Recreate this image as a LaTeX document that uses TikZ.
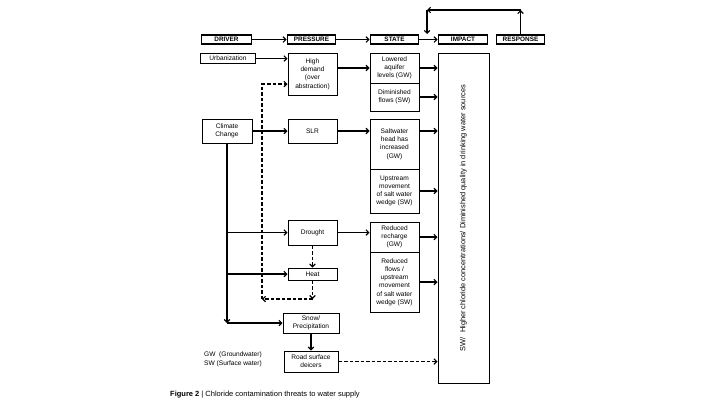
\documentclass[tikz,border=0pt]{standalone}
\usepackage{fontspec}
\setmainfont{Liberation Sans}
\usetikzlibrary{arrows.meta,calc}
\begin{document}
\begin{tikzpicture}[x=1pt,y=-1pt,
  every node/.style={font=\fontsize{6.6}{8.2}\selectfont, align=center, inner sep=0pt},
  hdr/.style={draw, line width=1.9pt, minimum width=48pt, minimum height=9.5pt, font=\fontsize{6.4}{7}\selectfont\bfseries},
  bx/.style={draw, line width=1pt, minimum width=49pt},
  arr/.style={line width=1.1pt, -{Straight Barb[length=2.8pt,width=5.6pt,line width=1.1pt]}},
  darr/.style={arr, dash pattern=on 3.5pt off 2pt},
]
\useasboundingbox (0,0) rectangle (720,405);
% headers
\node[hdr, minimum width=50pt] (drv) at (226.5,39.5) {DRIVER};
\node[hdr] (prs) at (311.5,39.5) {PRESSURE};
\node[hdr] (sta) at (394.5,39.5) {STATE};
\node[hdr, minimum width=49pt] (imh) at (463,39.5) {IMPACT};
\node[hdr] (rsp) at (520.5,39.5) {RESPONSE};
% driver column
\node[bx, minimum width=55pt, minimum height=10pt] (urb) at (228,58.5) {Urbanization};
\node[bx, minimum width=50pt, minimum height=24pt] (clim) at (227,131) {Climate\\Change};
% pressure column
\node[bx, minimum height=42pt] (hd) at (312.5,74) {High\\demand\\(over\\abstraction)};
\node[bx, minimum height=24pt] (slr) at (312.5,131) {SLR};
\node[bx, minimum height=25pt] (dro) at (312.5,232.5) {Drought};
\node[bx, minimum height=12pt] (heat) at (312.5,274) {Heat};
\node[bx, minimum width=56pt, minimum height=20pt] (snow) at (311,323) {Snow/\\Precipitation};
\node[bx, minimum width=54pt, minimum height=21pt] (road) at (311,361.5) {Road surface\\deicers};
% state column
\node[bx, minimum height=30pt] (low) at (394.5,68) {Lowered\\aquifer\\levels (GW)};
\node[bx, minimum height=28pt] (dim) at (394.5,97) {Diminished\\flows (SW)};
\node[bx, minimum height=50pt] (salt) at (394.5,144) {Saltwater\\head has\\increased\\(GW)};
\node[bx, minimum height=44pt] (up) at (394.5,191) {Upstream\\movement\\of salt water\\wedge (SW)};
\node[bx, minimum height=30pt] (rec) at (394.5,237) {Reduced\\recharge\\(GW)};
\node[bx, minimum height=60pt] (flo) at (394.5,282) {Reduced\\flows /\\upstream\\movement\\of salt water\\wedge (SW)};
% impact
\node[bx, minimum width=51pt, minimum height=330pt] (imp) at (463.5,218) {};
\node[rotate=90, font=\fontsize{7.4}{8}\selectfont] (imptxt) at (imp.center) {SW/\ \ Higher chloride concentrations/ Diminished quality in drinking water sources};
% legend and caption
\node[anchor=north west, align=left] (leg) at (204,352) {GW\ \ (Groundwater)\\SW (Surface water)};
\node[anchor=west, font=\fontsize{7.5}{8}\selectfont] (cap) at (170,395) {\textbf{Figure 2} | Chloride contamination threats to water supply};
% header arrows
\draw[arr] (drv.east) -- (prs.west);
\draw[arr] (prs.east) -- (sta.west);
\draw[arr] (sta.east) -- (imh.west);
\coordinate (fbL) at (427,10);
\coordinate (fbB) at (427,34);
\coordinate (fbR) at (rsp.north |- fbL);
\draw[arr] (rsp.north) -- (fbR);
\draw[arr] (fbR) -- (fbL);
\draw[arr] (fbL) -- (fbB);
% driver -> pressure
\draw[arr] (urb.east) -- (urb.east -| hd.west);
\draw[arr] (clim.east) -- (clim.east -| slr.west);
\draw[arr] (clim.south) -- (clim.south |- snow.west);
\draw[arr] (clim.south |- snow.west) -- (snow.west);
\draw[arr] (clim.south |- dro.west) -- (dro.west);
\draw[arr] (clim.south |- heat.west) -- (heat.west);
% pressure -> state
\draw[arr] (hd.east |- low.west) -- (low.west);
\draw[arr] (slr.east) -- (slr.east -| salt.west);
\draw[arr] (dro.east) -- (dro.east -| rec.west);
% state -> impact
\draw[arr] (low.east) -- (low.east -| imp.west);
\draw[arr] (dim.east) -- (dim.east -| imp.west);
\draw[arr] (salt.east |- slr.east) -- (slr.east -| imp.west);
\draw[arr] (up.east) -- (up.east -| imp.west);
\draw[arr] (rec.east) -- (rec.east -| imp.west);
\draw[arr] (flo.east) -- (flo.east -| imp.west);
% dashed links
\draw[darr] (dro.south) -- (heat.north);
\coordinate (dl) at (262,299);
\coordinate (dt) at (262,84);
\draw[darr] (heat.south) -- (heat.south |- dl);
\draw[darr] (heat.south |- dl) -- (dl);
\draw[darr] (dl) -- (dt) -- (dt -| hd.west);
\draw[arr] (snow.south) -- (road.north);
\draw[darr] (road.east) -- (road.east -| imp.west);
\end{tikzpicture}
\end{document}
